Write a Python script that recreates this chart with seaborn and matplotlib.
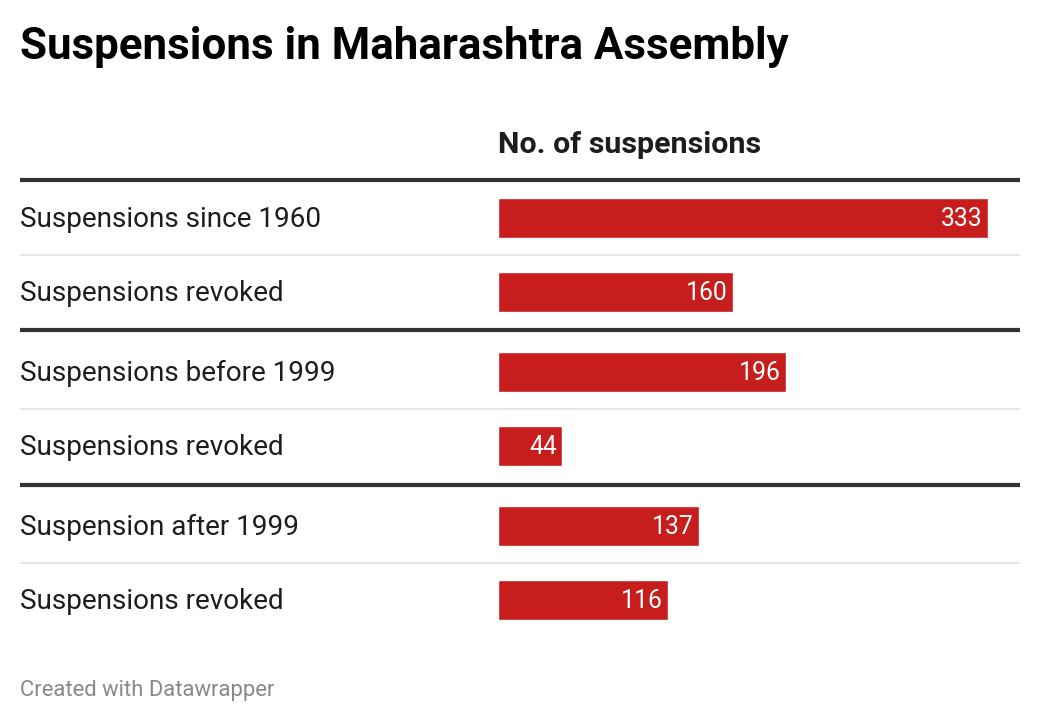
import matplotlib
matplotlib.use("Agg")
import matplotlib.pyplot as plt
import seaborn as sns

# ============================================================
# Data
# ============================================================

labels = [
    "Suspensions since 1960",
    "Suspensions revoked",
    "Suspensions before 1999",
    "Suspensions revoked",
    "Suspension after 1999",
    "Suspensions revoked",
]
values = [333, 160, 196, 44, 137, 116]

title = "Suspensions in Maharashtra Assembly"
column_header = "No. of suspensions"
footer = "Created with Datawrapper"

# ============================================================
# Layout (pixels)
# ============================================================

W, H = 1040, 722
bar_x0 = 497.5
k = 490 / 333            # px per unit
row_y = [218, 292, 372, 446, 526, 600]
thick_y = [180, 330, 484.5]
thin_y = [255, 409, 562.5]

red = "#c71e1d"
dark = "#333333"


def px(x):
    return (x - bar_x0) / k


sns.set_style("white")
plt.rcParams["font.family"] = ["Roboto", "DejaVu Sans"]

fig = plt.figure(figsize=(W / 100, H / 100), dpi=100)
ax = fig.add_axes([0, 0, 1, 1])

sns.barplot(
    x=values,
    y=row_y,
    orient="h",
    native_scale=True,
    width=40 / 74,
    color=red,
    saturation=1,
    ax=ax,
    zorder=3,
)

ax.set_xlim(px(0), px(W))
ax.set_ylim(H, 0)
ax.axis("off")

# separators
for y in thick_y:
    ax.plot([px(20), px(1020)], [y, y], color=dark, lw=3.0, solid_capstyle="butt")
for y in thin_y:
    ax.plot([px(20), px(1020)], [y, y], color="#e6e6e6", lw=1.4, solid_capstyle="butt")

# row labels and values
for lab, v, y in zip(labels, values, row_y):
    ax.text(px(20), y + 9, lab, fontsize=20.1, color="#1d1d1d", va="baseline", ha="left")
    ax.text(v - 5 / k, y + 8.5, str(v), fontsize=17.8, color="white",
            va="baseline", ha="right", zorder=4)

ax.text(px(20), 59, title, fontsize=31.6, fontweight="bold", color="black",
        va="baseline", ha="left")
ax.text(px(498), 153, column_header, fontsize=21.9, fontweight="bold",
        color="#1d1d1d", va="baseline", ha="left")
ax.text(px(20), 696, footer, fontsize=15.8, color="#888888",
        va="baseline", ha="left")

fig.savefig("out.png", dpi=100)
